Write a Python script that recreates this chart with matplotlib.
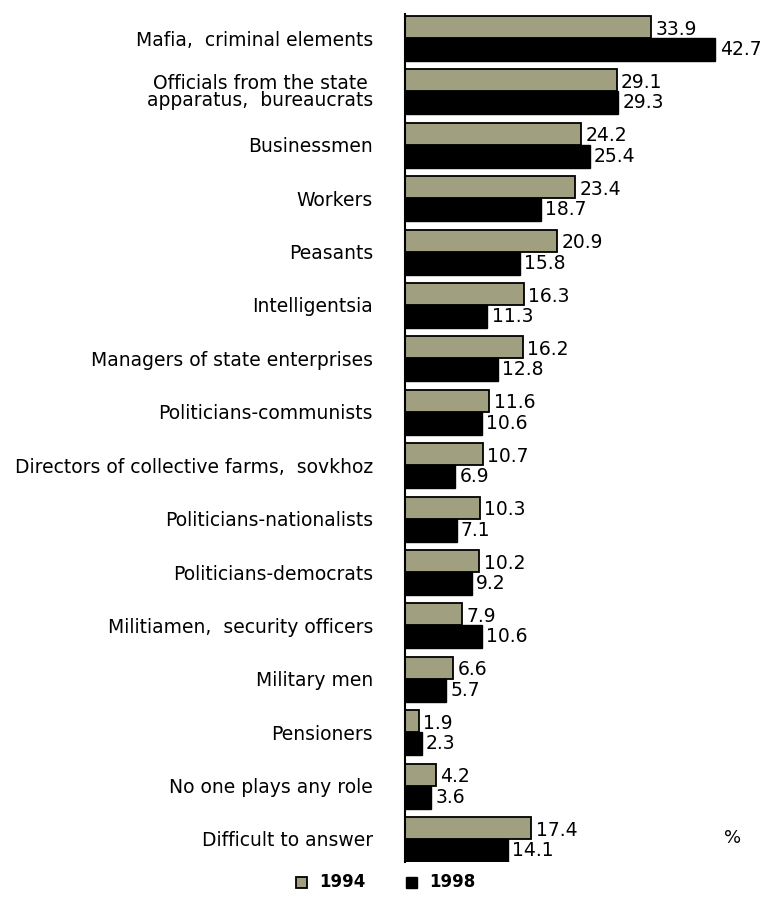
import matplotlib
matplotlib.use("Agg")
import matplotlib.pyplot as plt
import numpy as np
from matplotlib.patches import Rectangle

categories = [
    "Mafia,  criminal elements",
    "Officials from the state\napparatus,  bureaucrats",
    "Businessmen",
    "Workers",
    "Peasants",
    "Intelligentsia",
    "Managers of state enterprises",
    "Politicians-communists",
    "Directors of collective farms,  sovkhoz",
    "Politicians-nationalists",
    "Politicians-democrats",
    "Militiamen,  security officers",
    "Military men",
    "Pensioners",
    "No one plays any role",
    "Difficult to answer",
]
values_1994 = [33.9, 29.1, 24.2, 23.4, 20.9, 16.3, 16.2, 11.6, 10.7, 10.3, 10.2, 7.9, 6.6, 1.9, 4.2, 17.4]
values_1998 = [42.7, 29.3, 25.4, 18.7, 15.8, 11.3, 12.8, 10.6, 6.9, 7.1, 9.2, 10.6, 5.7, 2.3, 3.6, 14.1]
series_names = ["1994", "1998"]

plt.rcParams['font.family'] = ['DejaVu Sans']

W, H = 771, 900
fig = plt.figure(figsize=(W / 100, H / 100), dpi=100)
ax_left, ax_right = 405, 771
ax_top, ax_bot = 14, 862
ax = fig.add_axes([ax_left / W, 1 - ax_bot / H, (ax_right - ax_left) / W, (ax_bot - ax_top) / H])

gray = "#a09f80"
pitch = 53.4
h1 = 22 / pitch
h2 = 23 / pitch
y = np.arange(len(categories))
ax.barh(y - h1 / 2, values_1994, height=h1, color=gray, edgecolor="black", linewidth=1.3)
ax.barh(y + h2 / 2, values_1998, height=h2, color="black", edgecolor="black", linewidth=1.0)

xmax = (ax_right - ax_left) / 7.27
ax.set_xlim(0, xmax)
ax.set_ylim((862 - 38) / pitch, -24 / pitch)

for i, (a, b) in enumerate(zip(values_1994, values_1998)):
    ax.text(a + 0.6, i - h1 / 2 + 0.04, f"{a}", ha="left", va="center", fontsize=13.5)
    ax.text(b + 0.6, i + h2 / 2, f"{b}", ha="left", va="center", fontsize=13.5)

ax.set_yticks(y)
ax.set_yticklabels(categories, fontsize=13.5, linespacing=0.82)
for lab in ax.get_yticklabels():
    lab.set_horizontalalignment("right")
    lab.set_multialignment("center")
ax.tick_params(axis="y", length=0, pad=23)
ax.set_xticks([])
for s in ["top", "right", "bottom"]:
    ax.spines[s].set_visible(False)
ax.spines["left"].set_linewidth(1.5)

fig.text(733 / W, 1 - 838 / H, "%", ha="center", va="center", fontsize=13)

# legend
ly = 1 - 882 / H
sq = 11
fig.patches.append(Rectangle((296 / W, ly - sq / 2 / H), sq / W, sq / H, transform=fig.transFigure,
                             facecolor=gray, edgecolor="black", linewidth=1.3))
fig.text(319 / W, ly, series_names[0], ha="left", va="center", fontsize=12, fontweight="bold")
fig.patches.append(Rectangle((406 / W, ly - sq / 2 / H), sq / W, sq / H, transform=fig.transFigure,
                             facecolor="black", edgecolor="black", linewidth=1.0))
fig.text(429 / W, ly, series_names[1], ha="left", va="center", fontsize=12, fontweight="bold")

fig.savefig("out.png", dpi=100)
